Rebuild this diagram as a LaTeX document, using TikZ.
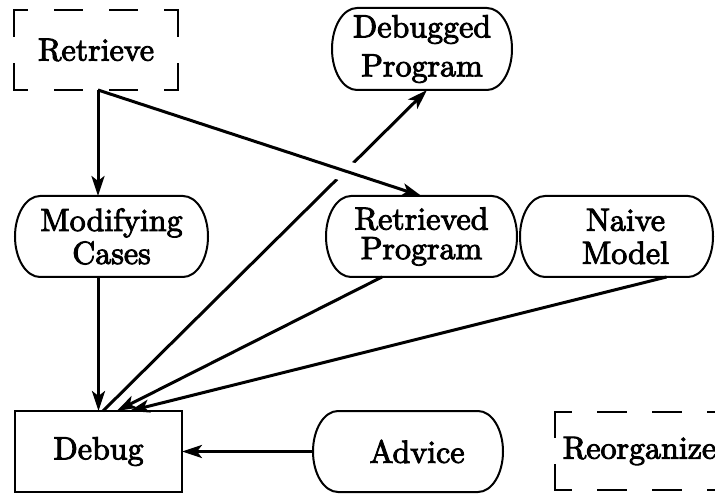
\documentclass[tikz,border=0pt]{standalone}
\usepackage{fontspec}
\setmainfont{lmroman10-regular}[Extension=.otf, FakeBold=3]
\usetikzlibrary{arrows.meta,calc}

% stadium-shaped frame with elliptic ends round a named node
\newcommand\capsule[2]{%
  \draw[frame] ([xshift=25pt]#1.north west) -- ([xshift=-25pt]#1.north east)
    arc[start angle=90,end angle=-90,x radius=25pt,y radius=#2]
    -- ([xshift=25pt]#1.south west)
    arc[start angle=270,end angle=90,x radius=25pt,y radius=#2] -- cycle;}

% dashed frame, each side dashed outward from its middle
\newcommand\dashframe[1]{%
  \draw[dashline] (#1.north) -- (#1.north west);
  \draw[dashline] (#1.north) -- (#1.north east);
  \draw[dashline] (#1.south) -- (#1.south west);
  \draw[dashline] (#1.south) -- (#1.south east);
  \draw[dashline] (#1.west) -- (#1.north west);
  \draw[dashline] (#1.west) -- (#1.south west);
  \draw[dashline] (#1.east) -- (#1.north east);
  \draw[dashline] (#1.east) -- (#1.south east);}

\tikzset{
  base/.style={inner sep=0pt, outer sep=0pt, align=center,
    font=\fontsize{32}{33}\selectfont},
  frame/.style={line width=2pt},
  dashline/.style={line width=2.2pt, line cap=rect,
    dash pattern=on 27pt off 28pt, dash phase=41pt},
  arr/.style={line width=3pt, -{Stealth[length=20pt,width=13pt,inset=5pt]}},
}

\begin{document}
\begin{tikzpicture}[x=1pt,y=1pt]
\useasboundingbox (0,0) rectangle (715,-494);
\clip (0,0) rectangle (715,-494);

% nodes
\node[base, minimum width=164pt, minimum height=80pt] (retrieve) at (96,-50) {Retrieve};
\node[base, minimum width=180pt, minimum height=82pt] (debugged) at (422,-49) {Debugged\\[6pt]Program};
\node[base, minimum width=193pt, minimum height=81pt] (modcases) at (111.5,-236.5) {Modifying\\Cases};
\node[base, minimum width=191pt, minimum height=81pt] (retrieved) at (421.5,-236.5) {Retrieved\\[-3.5pt]Program};
\node[base, minimum width=193pt, minimum height=81pt] (naive) at (616.5,-236.5) {\hspace*{18pt}Naive\\\hspace*{18pt}Model};
\node[base, draw, line width=2pt, minimum width=167pt, minimum height=81pt] (debug) at (98.5,-451.5) {Debug};
\node[base, minimum width=190pt, minimum height=81pt] (advice) at (408,-451.5) {\hspace*{18pt}Advice};
\node[base, minimum width=169pt, minimum height=78pt] (reorganize) at (639.5,-451) {Reorganize};

% frames
\dashframe{retrieve}
\dashframe{reorganize}
\capsule{debugged}{41pt}
\capsule{modcases}{40.5pt}
\capsule{retrieved}{40.5pt}
\capsule{naive}{40.5pt}
\capsule{advice}{40.5pt}

% connectors
\draw[arr] ([xshift=4.5pt]debug.north) -- ([xshift=5pt]debugged.south);
% break in the line above where the next connector crosses it
\draw[white, line width=21pt]
  ($([xshift=2pt]retrieve.south)!0.71!(retrieved.north)$) --
  ($([xshift=2pt]retrieve.south)!0.79!(retrieved.north)$);
\draw[arr] ([xshift=2pt]retrieve.south) -- (retrieved.north);
\draw[arr] ([xshift=2pt]retrieve.south) -- ([xshift=2pt]retrieve.south |- modcases.north);
\draw[arr] (debug.north |- modcases.south) -- (debug.north);
\draw[arr] ([xshift=-39.5pt]retrieved.south) -- ([xshift=18pt]debug.north);
\draw[arr] ([xshift=50pt]naive.south) -- ([xshift=31pt]debug.north);
\draw[arr] (advice.west) -- (debug.east);
\end{tikzpicture}
\end{document}
